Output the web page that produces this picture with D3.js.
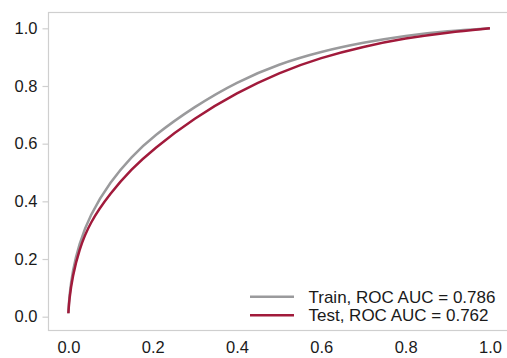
<!DOCTYPE html>
<html>
<head>
<meta charset="utf-8">
<script src="https://cdn.jsdelivr.net/npm/d3@7"></script>
<style>
  body { margin: 0; background: #fff; }
  text { font-family: "Liberation Sans", Arial, Helvetica, sans-serif; fill: #1a1a1a; }
</style>
</head>
<body>
<div id="chart"></div>
<script>
// values
let fprGrid = [0.0, 0.002, 0.01, 0.025, 0.05, 0.1, 0.15, 0.2, 0.3, 0.4, 0.5, 0.6, 0.7, 0.8, 0.9, 1.0];
let trainTpr = [0.012, 0.07, 0.16, 0.25, 0.35, 0.47, 0.555, 0.625, 0.73, 0.815, 0.877, 0.92, 0.951, 0.975, 0.991, 1.0];
let testTpr = [0.012, 0.06, 0.14, 0.23, 0.325, 0.43, 0.512, 0.58, 0.69, 0.777, 0.847, 0.899, 0.937, 0.966, 0.986, 1.0];
let tickValues = [0.0, 0.2, 0.4, 0.6, 0.8, 1.0];
let seriesNames = ["Train, ROC AUC = 0.786", "Test, ROC AUC = 0.762"];
let seriesColors = ["#9a9a9c", "#a11a3b"];

let width = 507, height = 358;
let frame = { left: 48.5, top: 12.5, right: 520, bottom: 330.5 };

let svg = d3.select("#chart").append("svg")
    .attr("width", width)
    .attr("height", height);

let x = d3.scaleLinear().domain([-0.05, 1.05]).range([47.3, 511]);
let y = d3.scaleLinear().domain([-0.05, 1.05]).range([331.1, 13.9]);

// frame
svg.append("rect")
    .attr("x", frame.left)
    .attr("y", frame.top)
    .attr("width", frame.right - frame.left)
    .attr("height", frame.bottom - frame.top)
    .style("fill", "none")
    .style("stroke", "#cfcfcf")
    .style("stroke-width", 1.2);

// y axis, ticks outside
let yAxis = svg.append("g")
    .attr("transform", "translate(" + frame.left + ",0)")
    .call(d3.axisLeft(y).tickValues(tickValues).tickSize(6).tickPadding(5).tickFormat(d3.format(".1f")));
yAxis.select(".domain").remove();
yAxis.selectAll(".tick line").style("stroke", "#cfcfcf").style("stroke-width", 1.2);
yAxis.selectAll(".tick text").style("font-size", "16.5px").attr("fill", "#1a1a1a");

// x axis, labels only
let xAxis = svg.append("g")
    .attr("transform", "translate(0," + frame.bottom + ")")
    .call(d3.axisBottom(x).tickValues(tickValues).tickSize(0).tickPadding(11).tickFormat(d3.format(".1f")));
xAxis.select(".domain").remove();
xAxis.selectAll(".tick text").style("font-size", "16.5px").attr("fill", "#1a1a1a");

let line = d3.line()
    .x(d => x(d[0]))
    .y(d => y(d[1]))
    .curve(d3.curveBasis);

let series = [
    d3.zip(fprGrid, trainTpr),
    d3.zip(fprGrid, testTpr)
];

svg.selectAll(".roc")
    .data(series)
    .enter()
    .append("path")
    .attr("class", "roc")
    .attr("d", line)
    .style("fill", "none")
    .style("stroke", (d, i) => seriesColors[i])
    .style("stroke-width", 2.5);

// legend
let legend = svg.selectAll(".legend")
    .data(seriesNames)
    .enter()
    .append("g")
    .attr("class", "legend")
    .attr("transform", (d, i) => "translate(250," + (296.8 + i * 18.4) + ")");

legend.append("line")
    .attr("x1", 0)
    .attr("x2", 44)
    .style("stroke", (d, i) => seriesColors[i])
    .style("stroke-width", 2.5);

legend.append("text")
    .attr("x", 58.5)
    .attr("y", 6)
    .style("font-size", "17px")
    .text(d => d);
</script>
</body>
</html>
